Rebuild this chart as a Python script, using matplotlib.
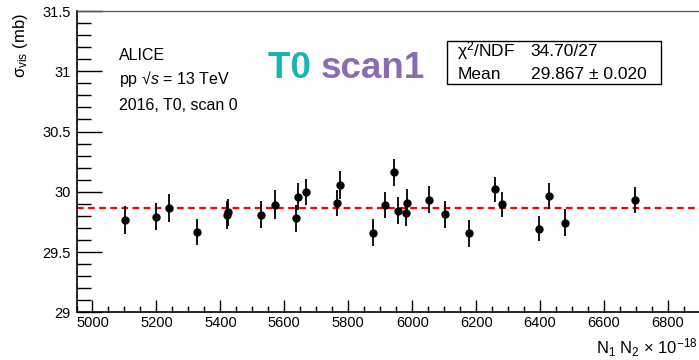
import matplotlib

matplotlib.use("Agg")
import matplotlib.pyplot as plt
from matplotlib.patches import Rectangle
from matplotlib.ticker import MultipleLocator

plt.rcParams["font.family"] = ["Liberation Sans", "DejaVu Sans"]
plt.rcParams["mathtext.fontset"] = "custom"
plt.rcParams["mathtext.rm"] = "Liberation Sans"
plt.rcParams["mathtext.it"] = "Liberation Sans:italic"

# ----- data ------------------------------------------------------------------
n1n2 = [5101, 5198, 5238, 5327, 5422, 5425, 5526, 5572, 5635, 5642,
        5667, 5766, 5775, 5877, 5916, 5942, 5957, 5981, 5984, 6054,
        6102, 6178, 6258, 6282, 6396, 6427, 6479, 6696]
sigma_vis = [29.767, 29.794, 29.867, 29.667, 29.81, 29.83, 29.81, 29.894, 29.78, 29.958,
             29.997, 29.908, 30.056, 29.661, 29.894, 30.161, 29.844, 29.825, 29.911, 29.933,
             29.814, 29.656, 30.019, 29.897, 29.692, 29.964, 29.744, 29.931]
sigma_err = [0.116, 0.112, 0.116, 0.109, 0.115, 0.113, 0.113, 0.122, 0.111, 0.113,
             0.108, 0.108, 0.120, 0.112, 0.108, 0.111, 0.109, 0.110, 0.110, 0.113,
             0.112, 0.111, 0.106, 0.105, 0.104, 0.111, 0.112, 0.105]
fit_mean = 29.867
stat_rows = [("χ$^{2}$/NDF", "34.70/27"), ("Mean", "29.867 ± 0.020")]
info_lines = ["ALICE", "pp √$s$ = 13 TeV", "2016, T0, scan 0"]

W, H = 699, 360
fig = plt.figure(figsize=(W / 100, H / 100), dpi=100)
ax = fig.add_axes([76.5 / W, 1 - 312.3 / H, 1 - 76.5 / W, (312.3 - 11) / H])

ax.errorbar(n1n2, sigma_vis, yerr=sigma_err, fmt="o", color="black", ms=5,
            elinewidth=1.3, capsize=0, zorder=3)
ax.axhline(fit_mean, color="red", linestyle=(0, (3, 2)), linewidth=1.6, zorder=2)

ax.set_xlim(4950, 6897)
ax.set_ylim(29, 31.5)
ax.xaxis.set_major_locator(MultipleLocator(200))
ax.xaxis.set_minor_locator(MultipleLocator(50))
ax.yaxis.set_major_locator(MultipleLocator(0.5))
ax.yaxis.set_minor_locator(MultipleLocator(0.1))
ax.tick_params(which="both", direction="in", top=False, right=False, labelsize=10.5, width=1)
ax.tick_params(axis="x", which="major", length=9, pad=2.5)
ax.tick_params(axis="x", which="minor", length=4)
ax.tick_params(axis="y", which="major", length=18, pad=4)
ax.tick_params(axis="y", which="minor", length=10)
ax.set_yticks([29, 29.5, 30, 30.5, 31, 31.5])
ax.set_yticklabels(["29", "29.5", "30", "30.5", "31", "31.5"])
ax.spines["right"].set_visible(False)
for s in ("left", "bottom"):
    ax.spines[s].set_linewidth(1.2)
ax.spines["top"].set_linewidth(0.9)
ax.spines["top"].set_color("#555555")

# axis titles
fig.text(20 / W, 1 - 13 / H, "σ$_{\\rm vis}$ (mb)", rotation=90, ha="center", va="top", fontsize=12)
fig.text(698 / W, 1 - 354 / H, "N$_{1}$ N$_{2}$ × 10$^{-18}$", ha="right", va="baseline", fontsize=12)

# ALICE labels
for txt, yb in zip(info_lines, [60, 84, 110]):
    fig.text(119.3 / W, 1 - yb / H, txt, ha="left", va="baseline", fontsize=11.5)

# big title
t0 = fig.text(267.7 / W, 1 - 78.3 / H, "T0 ", color="#19b4b6", fontsize=26.5,
              fontweight="bold", ha="left", va="baseline")
fig.canvas.draw()
bb = t0.get_window_extent()
fig.text(bb.x1 / W, 1 - 78.3 / H, "scan1", color="#8a6cb3", fontsize=26.5,
         fontweight="bold", ha="left", va="baseline")

# stat box
fig.add_artist(Rectangle((446.7 / W, 1 - 84 / H), (660.7 - 446.7) / W, (84 - 40.7) / H,
                         transform=fig.transFigure, fill=False, edgecolor="black", linewidth=1))
for (k, v), yb in zip(stat_rows, [56, 78.7]):
    fig.text(457.3 / W, 1 - yb / H, k, ha="left", va="baseline", fontsize=12.5)
    fig.text(530.7 / W, 1 - yb / H, v, ha="left", va="baseline", fontsize=12.5)

plt.savefig("out.png", dpi=100)
plt.close()
